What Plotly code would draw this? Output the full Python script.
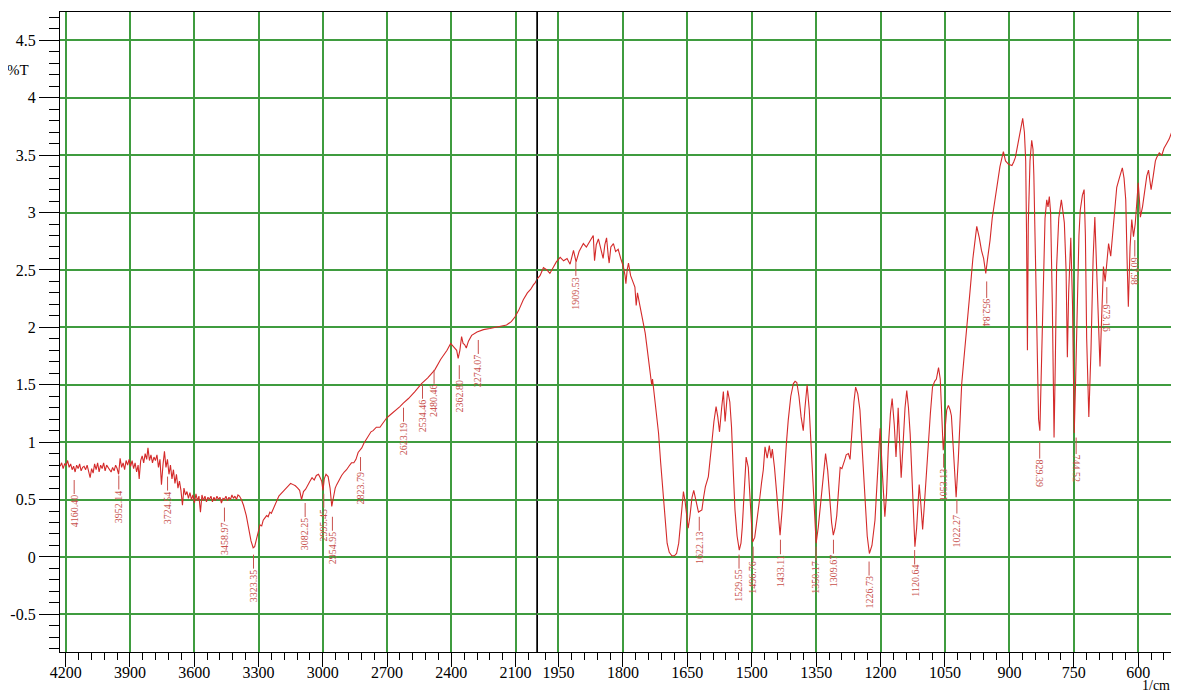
import plotly.graph_objects as go

# ---------------- data ----------------
wavenumber = [
    4226, 4219, 4212, 4205, 4198, 4191, 4184, 4177, 4170, 4163, 4156, 4149, 4142, 4135, 4128, 4121,
    4114, 4107, 4100, 4093, 4086, 4079, 4072, 4065, 4058, 4051, 4044, 4037, 4030, 4023, 4016, 4009,
    4002, 3995, 3988, 3981, 3974, 3967, 3960, 3953, 3946, 3939, 3932, 3925, 3918, 3911, 3904, 3897,
    3890, 3883, 3876, 3869, 3862, 3857, 3850, 3843, 3836, 3829, 3822, 3816, 3809, 3802, 3795, 3788,
    3781, 3774, 3767, 3760, 3753, 3746, 3739, 3732, 3725, 3718, 3711, 3704, 3697, 3690, 3683, 3676,
    3669, 3662, 3655, 3648, 3641, 3634, 3627, 3620, 3613, 3606, 3599, 3592, 3585, 3578, 3571, 3564,
    3557, 3550, 3543, 3536, 3529, 3522, 3515, 3508, 3501, 3494, 3487, 3480, 3473, 3466, 3459, 3452,
    3445, 3438, 3431, 3424, 3417, 3410, 3403, 3396, 3389, 3380, 3370, 3357, 3345, 3335, 3325, 3318,
    3310, 3301, 3293, 3285, 3278, 3270, 3262, 3255, 3247, 3240, 3231, 3222, 3213, 3205, 3200, 3190,
    3180, 3169, 3160, 3150, 3138, 3128, 3117, 3108, 3099, 3090, 3080, 3070, 3060, 3050, 3040, 3030,
    3020, 3012, 3005, 2999, 2993, 2985, 2975, 2966, 2958, 2950, 2942, 2935, 2925, 2912, 2900, 2889,
    2878, 2866, 2855, 2845, 2835, 2827, 2818, 2808, 2796, 2785, 2775, 2765, 2750, 2733, 2718, 2702,
    2690, 2670, 2640, 2624, 2600, 2570, 2539, 2510, 2477, 2450, 2420, 2403, 2390, 2375, 2368, 2360,
    2352, 2345, 2338, 2330, 2320, 2305, 2280, 2250, 2220, 2190, 2160, 2142, 2120, 2103, 2085, 2064,
    2045, 2030, 2017, 2008, 2000,
    1993, 1985, 1977, 1970, 1962, 1955, 1946, 1938, 1930, 1923, 1915, 1909, 1902, 1892, 1885, 1876,
    1869, 1866, 1862, 1857, 1852, 1846, 1842, 1838, 1834, 1832, 1828, 1822, 1817, 1811, 1805, 1799,
    1795, 1793, 1790, 1787, 1782, 1777, 1772, 1769, 1766, 1762, 1757, 1752, 1748, 1745, 1740, 1736,
    1733, 1731, 1727, 1722, 1717, 1712, 1706, 1701, 1697, 1692, 1686, 1680, 1675, 1670, 1667, 1663,
    1659, 1655, 1651, 1648, 1644, 1639, 1635, 1630, 1624, 1620, 1616, 1612, 1608, 1601, 1597, 1593,
    1588, 1583, 1579, 1575, 1570, 1566, 1562, 1556, 1551, 1547, 1543, 1539, 1534, 1529, 1525, 1522,
    1517, 1513, 1508, 1503, 1498, 1493, 1487, 1481, 1477, 1473, 1469, 1464, 1459, 1455, 1452, 1447,
    1442, 1438, 1434, 1429, 1424, 1419, 1415, 1409, 1403, 1399, 1395, 1390, 1385, 1380, 1376, 1371,
    1366, 1360, 1355, 1350, 1345, 1341, 1335, 1328, 1323, 1318, 1314, 1310, 1306, 1302, 1298, 1294,
    1290, 1287, 1283, 1280, 1275, 1271, 1267, 1262, 1258, 1253, 1248, 1242, 1236, 1231, 1226, 1220,
    1213, 1207, 1201, 1196, 1190, 1186, 1182, 1177, 1173, 1168, 1164, 1161, 1159, 1155, 1152, 1148,
    1143, 1139, 1135, 1131, 1127, 1124, 1120, 1116, 1113, 1110, 1106, 1102, 1098, 1093, 1089, 1084,
    1079, 1074, 1070, 1065, 1061, 1057, 1054, 1050, 1046, 1042, 1038, 1035, 1030, 1024, 1019, 1015,
    1011, 1006, 1000, 992, 985, 976, 970, 965, 960, 955, 950, 945, 940, 934, 928, 922,
    914, 909, 902, 894, 890, 886, 880, 874, 869, 865, 862, 860, 858, 856, 852, 848,
    845, 843, 840, 836, 832, 829, 826, 821, 817, 813, 810, 807, 804, 800, 796, 793,
    790, 785, 779, 775, 772, 768, 765, 762, 757, 753, 749, 746, 742, 738, 735, 730,
    726, 723, 720, 715, 710, 705, 701, 697, 693, 689, 685, 681, 677, 673, 669, 664,
    658, 654, 650, 644, 637, 633, 629, 626, 623, 619, 615, 611, 607, 603, 600, 597,
    595, 590, 585, 580, 576, 573, 570, 565, 560, 557, 551, 545, 540, 534, 528, 522,
    519,
]
transmittance = [
    0.79, 0.82, 0.77, 0.81, 0.80, 0.84, 0.78, 0.81, 0.76, 0.79, 0.74, 0.80, 0.77, 0.81, 0.75, 0.78,
    0.79, 0.76, 0.80, 0.74, 0.69, 0.77, 0.73, 0.81, 0.76, 0.82, 0.74, 0.80, 0.77, 0.82, 0.75, 0.80,
    0.78, 0.76, 0.74, 0.78, 0.75, 0.80, 0.77, 0.72, 0.86, 0.78, 0.82, 0.76, 0.84, 0.80, 0.85, 0.79,
    0.84, 0.77, 0.82, 0.74, 0.80, 0.68, 0.84, 0.88, 0.82, 0.90, 0.85, 0.95, 0.84, 0.89, 0.82, 0.87,
    0.84, 0.89, 0.78, 0.85, 0.63, 0.80, 0.92, 0.78, 0.85, 0.72, 0.80, 0.68, 0.76, 0.64, 0.72, 0.60,
    0.66, 0.58, 0.45, 0.60, 0.54, 0.57, 0.51, 0.56, 0.50, 0.54, 0.47, 0.55, 0.49, 0.53, 0.39, 0.54,
    0.49, 0.53, 0.48, 0.52, 0.50, 0.53, 0.48, 0.52, 0.49, 0.53, 0.50, 0.52, 0.47, 0.51, 0.50, 0.53,
    0.49, 0.52, 0.50, 0.54, 0.51, 0.53, 0.50, 0.54, 0.53, 0.50, 0.45, 0.36, 0.24, 0.14, 0.08, 0.09,
    0.15, 0.22, 0.28, 0.27, 0.32, 0.34, 0.36, 0.35, 0.39, 0.38, 0.42, 0.45, 0.50, 0.53, 0.54, 0.56,
    0.58, 0.61, 0.62, 0.64, 0.63, 0.62, 0.60, 0.58, 0.50, 0.57, 0.59, 0.63, 0.66, 0.69, 0.67, 0.71,
    0.72, 0.69, 0.66, 0.58, 0.68, 0.72, 0.70, 0.60, 0.44, 0.52, 0.60, 0.63, 0.67, 0.71, 0.74, 0.76,
    0.79, 0.82, 0.82, 0.85, 0.91, 0.93, 0.95, 0.99, 1.03, 1.06, 1.09, 1.10, 1.13, 1.13, 1.17, 1.21,
    1.23, 1.26, 1.31, 1.34, 1.38, 1.44, 1.51, 1.56, 1.63, 1.72, 1.80, 1.86, 1.83, 1.80, 1.73, 1.80,
    1.92, 1.86, 1.85, 1.82, 1.88, 1.93, 1.96, 1.98, 1.99, 2.00, 2.01, 2.02, 2.05, 2.09, 2.15, 2.24,
    2.30, 2.33, 2.37, 2.39, 2.42,
    2.45, 2.52, 2.50, 2.47, 2.53, 2.57, 2.61, 2.58, 2.60, 2.55, 2.67, 2.57, 2.66, 2.73, 2.70, 2.76,
    2.80, 2.58, 2.72, 2.77, 2.70, 2.60, 2.72, 2.78, 2.62, 2.56, 2.70, 2.73, 2.66, 2.68, 2.60, 2.53,
    2.45, 2.38, 2.50, 2.56, 2.45, 2.40, 2.35, 2.19, 2.30, 2.22, 2.12, 2.05, 1.95, 1.86, 1.72, 1.60,
    1.50, 1.55, 1.42, 1.28, 1.08, 0.82, 0.52, 0.28, 0.12, 0.04, 0.01, 0.01, 0.03, 0.12, 0.26, 0.45,
    0.57, 0.48, 0.32, 0.25, 0.35, 0.52, 0.58, 0.50, 0.39, 0.40, 0.41, 0.52, 0.61, 0.70, 0.82, 0.99,
    1.18, 1.31, 1.22, 1.09, 1.30, 1.44, 1.18, 1.45, 1.35, 1.13, 0.75, 0.41, 0.18, 0.06, 0.12, 0.26,
    0.60, 0.87, 0.78, 0.40, 0.13, 0.17, 0.33, 0.52, 0.65, 0.76, 0.96, 0.86, 0.97, 0.86, 0.94, 0.78,
    0.56, 0.35, 0.19, 0.42, 0.76, 1.00, 1.19, 1.40, 1.51, 1.53, 1.52, 1.40, 1.22, 1.10, 1.30, 1.50,
    1.28, 0.85, 0.45, 0.12, 0.26, 0.41, 0.65, 0.90, 0.75, 0.48, 0.30, 0.19, 0.25, 0.36, 0.58, 0.78,
    0.77, 0.80, 0.85, 0.89, 0.90, 0.85, 1.10, 1.35, 1.48, 1.42, 1.28, 0.90, 0.47, 0.18, 0.03, 0.10,
    0.32, 0.70, 1.12, 0.75, 0.35, 0.55, 0.95, 1.25, 1.38, 1.15, 0.87, 1.10, 1.30, 0.95, 0.69, 0.95,
    1.30, 1.45, 1.30, 1.07, 0.70, 0.35, 0.09, 0.25, 0.50, 0.63, 0.45, 0.24, 0.45, 0.75, 0.96, 1.25,
    1.48, 1.53, 1.55, 1.65, 1.55, 1.20, 0.93, 1.10, 1.28, 1.32, 1.28, 1.23, 0.95, 0.52, 0.85, 1.22,
    1.51, 1.72, 2.00, 2.30, 2.60, 2.88, 2.78, 2.67, 2.60, 2.47, 2.62, 2.76, 2.95, 3.11, 3.28, 3.40,
    3.53, 3.45, 3.42, 3.41, 3.44, 3.48, 3.60, 3.72, 3.82, 3.70, 3.45, 2.80, 1.80, 2.90, 3.45, 3.63,
    3.55, 3.32, 2.80, 1.90, 1.20, 1.10, 1.60, 2.53, 2.95, 3.11, 3.05, 3.14, 3.00, 2.20, 1.04, 1.70,
    2.53, 2.95, 3.11, 3.00, 2.91, 2.50, 1.74, 2.30, 2.78, 2.20, 1.08, 1.50, 2.20, 2.80, 3.02, 3.15,
    3.20, 2.80, 1.90, 1.22, 1.80, 2.60, 2.96, 2.53, 2.00, 1.66, 2.10, 2.53, 2.40, 2.55, 2.73, 2.62,
    2.90, 3.10, 3.22, 3.30, 3.39, 3.30, 3.11, 2.60, 2.18, 2.70, 2.94, 2.79, 2.90, 3.10, 3.26, 3.10,
    2.96, 3.05, 3.20, 3.32, 3.37, 3.28, 3.20, 3.32, 3.45, 3.48, 3.52, 3.50, 3.56, 3.60, 3.64, 3.70,
    3.66,
]

# peak labels: wavenumber, %T at top of the label line, label text, text direction
peak_wn = [4160.40, 3952.14, 3724.54, 3458.97, 3323.35, 3082.25, 2995.45, 2954.95, 2823.79,
           2623.19, 2534.46, 2480.46, 2362.80, 2274.07, 1909.53, 1622.13, 1529.55, 1496.76,
           1433.11, 1350.17, 1309.67, 1226.73, 1120.64, 1053.13, 1022.27, 952.84, 829.39,
           744.52, 673.16, 607.98]
peak_t = [0.67, 0.71, 0.70, 0.43, 0.02, 0.47, 0.55, 0.35, 0.87,
          1.30, 1.50, 1.63, 1.67, 1.89, 2.57, 0.35, 0.02, 0.09,
          0.15, 0.09, 0.15, -0.04, 0.06, 0.90, 0.50, 2.40, 1.00,
          1.04, 2.35, 2.76]
peak_text = ["4160.40", "3952.14", "3724.54", "3458.97", "3323.35", "3082.25", "2995.45",
             "2954.95", "2823.79", "2623.19", "2534.46", "2480.46", "2362.80", "2274.07",
             "1909.53", "1622.13", "1529.55", "1496.76", "1433.11", "1350.17", "1309.67",
             "1226.73", "1120.64", "1053.13", "1022.27", "952.84", "829.39", "744.52",
             "673.16", "607.98"]
peak_down = [False] * 25 + [True] * 5

y_ticks = [-0.5, 0, 0.5, 1, 1.5, 2, 2.5, 3, 3.5, 4, 4.5]
x1_ticks = [4200, 3900, 3600, 3300, 3000, 2700, 2400, 2100]
x2_ticks = [1950, 1800, 1650, 1500, 1350, 1200, 1050, 900, 750, 600]

BREAK = 2000

# ---------------- figure ----------------
RED = "#d42a2a"
LABEL_RED = "#c8504c"
GREEN = "#3f9c3f"
FONT = "Liberation Serif"

hi = [(w, t) for w, t in zip(wavenumber, transmittance) if w >= BREAK]
lo = [(w, t) for w, t in zip(wavenumber, transmittance) if w <= BREAK]

fig = go.Figure()
fig.add_trace(go.Scatter(x=[p[0] for p in hi], y=[p[1] for p in hi], mode="lines",
                         line=dict(color=RED, width=1.1), xaxis="x", yaxis="y",
                         showlegend=False, hoverinfo="x+y"))
fig.add_trace(go.Scatter(x=[p[0] for p in lo], y=[p[1] for p in lo], mode="lines",
                         line=dict(color=RED, width=1.1), xaxis="x2", yaxis="y2",
                         showlegend=False, hoverinfo="x+y"))

split = (537 - 60) / 1113.0
yr = [-0.828, 4.747]

common_x = dict(showline=True, linecolor="black", linewidth=1.2, mirror=True,
                showgrid=True, gridcolor=GREEN, gridwidth=1.5, automargin=False,
                ticks="outside", ticklen=14, tickcolor="black", tickwidth=1,
                ticklabelstandoff=-8,
                tickfont=dict(family=FONT, size=16, color="black"), zeroline=False)

# the page body adds an 8px offset, so the figure is 8px smaller than the window
fig.update_layout(
    width=1171, height=684,
    margin=dict(l=52, r=6, t=4, b=40, autoexpand=False),
    paper_bgcolor="white", plot_bgcolor="white",
    font=dict(family=FONT, size=16, color="black"),
    xaxis=dict(domain=[0, split], range=[4226.6, BREAK], anchor="y",
               tickmode="array", tickvals=x1_ticks,
               minor=dict(tickmode="linear", tick0=4200, dtick=60, ticklen=7,
                          tickcolor="black", ticks="outside", showgrid=False),
               **common_x),
    xaxis2=dict(domain=[split, 1], range=[BREAK, 519], anchor="y2",
                tickmode="array", tickvals=x2_ticks,
                minor=dict(tickmode="linear", tick0=1950, dtick=30, ticklen=7,
                           tickcolor="black", ticks="outside", showgrid=False),
                **common_x),
    yaxis=dict(range=yr, anchor="x", showline=True, linecolor="black", linewidth=1.2,
               mirror=True, showgrid=True, gridcolor=GREEN, gridwidth=1.5, automargin=False,
               tickmode="array", tickvals=y_ticks,
               ticktext=[("%g" % v) for v in y_ticks],
               ticks="outside", ticklen=20, tickcolor="black", tickwidth=1,
               minor=dict(tickmode="linear", tick0=0, dtick=0.1, ticklen=10,
                          tickcolor="black", ticks="outside", showgrid=False),
               tickfont=dict(family=FONT, size=16, color="black"), zeroline=False),
    yaxis2=dict(range=yr, anchor="x2", showline=True, linecolor="#444444", linewidth=1.2,
                mirror=True, showgrid=True, gridcolor=GREEN, gridwidth=1.5, automargin=False,
                tickmode="array", tickvals=y_ticks, showticklabels=False, ticks="",
                zeroline=False),
)

annotations = []
for w, t, txt, down in zip(peak_wn, peak_t, peak_text, peak_down):
    seg = "" if w >= BREAK else "2"
    annotations.append(dict(
        x=w, y=t, xref="x" + seg, yref="y" + seg, text=txt,
        textangle=90 if down else -90,
        font=dict(family=FONT, size=10, color=LABEL_RED),
        showarrow=True, arrowhead=0, arrowwidth=1, arrowcolor=LABEL_RED,
        ax=0, ay=31, standoff=0, borderpad=0))

annotations.append(dict(text="%T", xref="paper", yref="paper", x=-0.0377, y=0.909,
                        xanchor="center", yanchor="middle", showarrow=False,
                        font=dict(family=FONT, size=15, color="black")))
annotations.append(dict(text="1/cm", xref="paper", yref="paper", x=0.999, y=-0.053,
                        xanchor="right", yanchor="middle", showarrow=False,
                        font=dict(family=FONT, size=14, color="black")))
fig.update_layout(annotations=annotations)

fig.write_html("out.html")
